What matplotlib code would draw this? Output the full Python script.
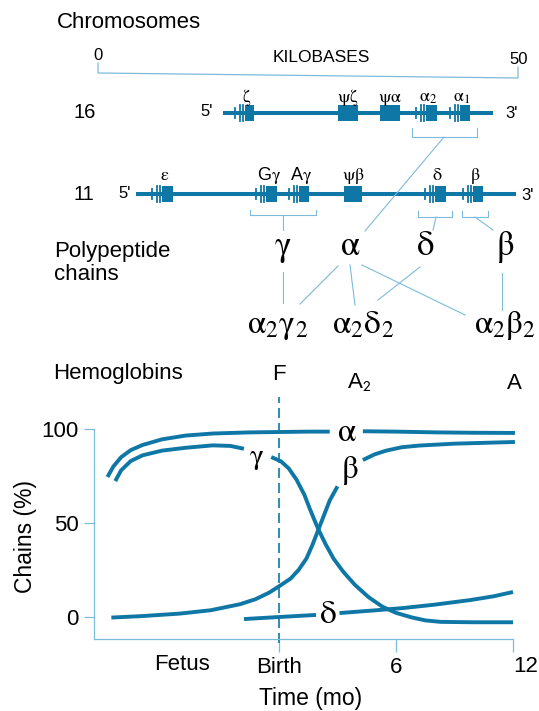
import numpy as np
import matplotlib.pyplot as plt
from matplotlib.patches import Rectangle
from matplotlib.transforms import blended_transform_factory

plt.rcParams['font.family'] = ['Liberation Sans', 'DejaVu Sans']
plt.rcParams['mathtext.fontset'] = 'stix'

DARK = '#0f77a6'
LIGHT = '#7dbbdb'
nan = np.nan

# ---- gene maps (pixel positions on the drawing) ----
chr16_labels = [r'$\mathrm{\zeta}$', r'$\mathrm{\psi\zeta}$', r'$\mathrm{\psi\alpha}$',
                r'$\mathrm{\alpha_2}$', r'$\mathrm{\alpha_1}$']
chr16_left = [245, 338, 380, 426, 460]
chr16_right = [254, 358, 400, 437, 470]
chr16_split = [True, False, False, True, True]

chr11_labels = [r'$\mathrm{\varepsilon}$', r'G$\mathrm{\gamma}$', r'A$\mathrm{\gamma}$',
                r'$\mathrm{\psi\beta}$', r'$\mathrm{\delta}$', r'$\mathrm{\beta}$']
chr11_left = [162, 266, 299, 344, 435, 473]
chr11_right = [173, 277, 309, 362, 446, 483]
chr11_split = [True, True, True, False, True, True]

# brackets: x0, x1, y, tick height
brackets = [(412, 477, 137, 9), (250, 316, 215, 5), (418, 452, 217, 6), (462, 488, 217, 6)]
# thin connector lines: x0, y0, x1, y1
links = [(444, 137, 365, 231), (283, 215, 283, 230), (436, 217, 433, 230),
         (475, 217, 493, 230), (283, 272, 283, 303), (338, 266, 300, 304),
         (350, 265, 355, 305), (362, 265, 465, 315), (420, 267, 378, 300),
         (502, 273, 502, 310)]

chains = [r'$\mathrm{\gamma}$', r'$\mathrm{\alpha}$', r'$\mathrm{\delta}$', r'$\mathrm{\beta}$']
chains_x = [283, 350, 425, 505]
hemos = [r'$\mathrm{\alpha_2\gamma_2}$', r'$\mathrm{\alpha_2\delta_2}$', r'$\mathrm{\alpha_2\beta_2}$']
hemos_x = [278, 363, 505]

# ---- chain synthesis curves (months from birth, % of chains) ----
alpha_t = [-8.8, -8.5, -8.1, -7.6, -7.0, -6.0, -4.8, -3.4, -1.5, 0.0, 1.5, 2.6, nan,
           4.3, 6.0, 8.1, 10.0, 12.1]
alpha_v = [74.5, 80, 85, 88.8, 91.5, 94.5, 96.5, 97.6, 98.2, 98.4, 98.6, 98.6, nan,
           98.8, 98.6, 98.2, 98.0, 97.9]
gamma_t = [-8.4, -8.1, -7.6, -7.0, -6.0, -4.8, -3.4, -2.5, -1.8, nan,
           -0.4, 0.1, 0.5, 0.9, 1.3, 1.6, 2.0, 2.4, 2.8, 3.3, 3.9, 4.6, 5.3, 6.0,
           6.8, 7.5, 8.3, 10.0, 12.0]
gamma_v = [72.3, 78, 83, 86, 88.5, 90, 91.3, 91, 89.5, nan,
           85.1, 82.8, 79, 73, 65, 57, 47, 38.5, 31, 24, 17, 10.5, 5.5, 2.2,
           -0.2, -1.8, -2.6, -2.8, -2.8]
beta_t = [-8.6, -7.0, -5.1, -3.5, -2.0, -1.2, -0.5, 0.1, 0.6, 1.0, 1.4, 1.7, 2.0,
          2.3, 2.6, 3.0, nan, 4.3, 4.9, 5.5, 6.3, 7.2, 9.0, 12.1]
beta_v = [-0.3, 0.5, 1.8, 3.6, 6.8, 9.5, 13, 17, 20.5, 25, 31, 38, 46,
          54, 62, 69.5, nan, 83.5, 86.5, 88.5, 90.3, 91.2, 92.2, 93.1]
delta_t = [-1.8, 0.0, 1.9, nan, 3.1, 5.0, 6.4, 8.0, 9.8, 11.0, 12.0]
delta_v = [-1.1, 0.0, 1.1, nan, 2.1, 3.6, 4.8, 6.6, 9.0, 11.0, 13.3]

x_ticks = [0, 6, 12]
x_ticklabels = ['Birth', '6', '12']
y_ticks = [0, 50, 100]

fig = plt.figure(figsize=(5.39, 7.11), dpi=100)

# ---------------- upper diagram ----------------
d = fig.add_axes([0, 0, 1, 1], zorder=0)
d.set_xlim(0, 539)
d.set_ylim(711, 0)
d.axis('off')


def gene_map(y, x0, x1, left, right, split, labels, base):
    d.plot([x0, x1], [y, y], color=DARK, lw=2.9, solid_capstyle='butt')
    for l, r, s, lab in zip(left, right, split, labels):
        d.add_patch(Rectangle((l, y - 8), r - l, 16, color=DARK, lw=0))
        if s:
            d.plot([l - 10, l - 10], [y - 5, y + 5], color=DARK, lw=1.3)
            d.plot([l - 5.5, l - 5.5], [y - 8, y + 8], color=DARK, lw=1.3)
            d.plot([l - 2.5, l - 2.5], [y - 8, y + 8], color=DARK, lw=1.3)
        d.text((l + r) / 2 - (3 if s else 0), base, lab, ha='center', va='baseline',
               fontsize=13)


d.text(57, 22, 'Chromosomes', fontsize=16, va='center')
d.plot([98, 98, 518, 518], [63, 73, 78, 67], color=LIGHT, lw=0.9)
d.text(98, 55, '0', fontsize=12, ha='center', va='center')
d.text(321, 57, 'KILOBASES', fontsize=12.5, ha='center', va='center')
d.text(519, 60, '50', fontsize=12, ha='center', va='center')

d.text(85, 112, '16', fontsize=14.5, ha='center', va='center')
d.text(207, 112, "5'", fontsize=12, ha='center', va='center')
d.text(511, 113, "3'", fontsize=12, ha='center', va='center')
gene_map(113, 223, 493, chr16_left, chr16_right, chr16_split, chr16_labels, 102)

d.text(84, 194, '11', fontsize=14.5, ha='center', va='center')
d.text(125, 193, "5'", fontsize=12, ha='center', va='center')
d.text(528, 195, "3'", fontsize=12, ha='center', va='center')
gene_map(194, 136, 516, chr11_left, chr11_right, chr11_split, chr11_labels, 180)

for x0, x1, y, h in brackets:
    d.plot([x0, x0, x1, x1], [y - h, y, y, y - h], color=LIGHT, lw=0.8)
for x0, y0, x1, y1 in links:
    d.plot([x0, x1], [y0, y1], color=LIGHT, lw=0.8)

d.text(54, 252, 'Polypeptide', fontsize=16, va='center')
d.text(54, 274, 'chains', fontsize=16, va='center')
for lab, x in zip(chains, chains_x):
    d.text(x, 255, lab, fontsize=25, ha='center', va='baseline')
for lab, x in zip(hemos, hemos_x):
    d.text(x, 333, lab, fontsize=24, ha='center', va='baseline')

d.text(53, 373, 'Hemoglobins', fontsize=16, va='center')

# ---------------- chart ----------------
ax = fig.add_axes([94 / 539, 1 - 639 / 711, 419 / 539, 210 / 711], zorder=1)
ax.patch.set_visible(False)
ax.set_xlim(-9.49, 12.0)
ax.set_ylim(-11.7, 100)
for s in ['top', 'right']:
    ax.spines[s].set_visible(False)
for s in ['left', 'bottom']:
    ax.spines[s].set_color(LIGHT)
    ax.spines[s].set_linewidth(0.9)

for t, v in [(alpha_t, alpha_v), (gamma_t, gamma_v), (beta_t, beta_v), (delta_t, delta_v)]:
    ax.plot(t, v, color=DARK, lw=2.8, clip_on=False, solid_capstyle='butt',
            solid_joinstyle='round')

ax.plot([0, 0], [-13.8, 117], color=DARK, lw=1.2, ls=(0, (6, 3)), clip_on=False)

ax.text(3.49, 98.4, r'$\mathrm{\alpha}$', fontsize=24, ha='center', va='center')
ax.text(-1.18, 84.6, r'$\mathrm{\gamma}$', fontsize=21, ha='center', va='center')
ax.text(3.64, 77.7, r'$\mathrm{\beta}$', fontsize=24, ha='center', va='center')
ax.text(2.51, 1.1, r'$\mathrm{\delta}$', fontsize=24, ha='center', va='center')

ax.text(0, 129, 'F', fontsize=16, ha='center', va='center', clip_on=False)
ax.text(4.1, 125, r'A$_\mathsf{2}$', fontsize=16, ha='center', va='center', clip_on=False)
ax.text(12.05, 124, 'A', fontsize=16, ha='center', va='center', clip_on=False)

ax.set_yticks(y_ticks)
ax.set_yticklabels([str(v) for v in y_ticks], fontsize=16)
ax.tick_params(axis='y', length=7.2, width=0.9, color=LIGHT, pad=4)
ax.set_xticks(x_ticks)
ax.set_xticklabels(x_ticklabels[:2] + [''], fontsize=16)
# the last month label sits to the right of its tick
trans = blended_transform_factory(ax.transData, ax.transAxes)
ax.text(x_ticks[2], -0.133, x_ticklabels[2], fontsize=16, ha='left', va='center',
        transform=trans, clip_on=False)
ax.set_xticks([-5], minor=True)
ax.set_xticklabels(['Fetus'], minor=True, fontsize=16)
ax.tick_params(axis='x', which='major', length=9, width=0.9, color=LIGHT, pad=4)
ax.tick_params(axis='x', which='minor', length=0, pad=11)

ax.set_ylabel('Chains (%)', fontsize=16.5, va='center')
ax.yaxis.set_label_coords(-0.164, 0.49)
ax.set_xlabel('Time (mo)', fontsize=16.5, va='center')
ax.xaxis.set_label_coords(0.518, -0.281)

fig.savefig('out.png', dpi=100)
